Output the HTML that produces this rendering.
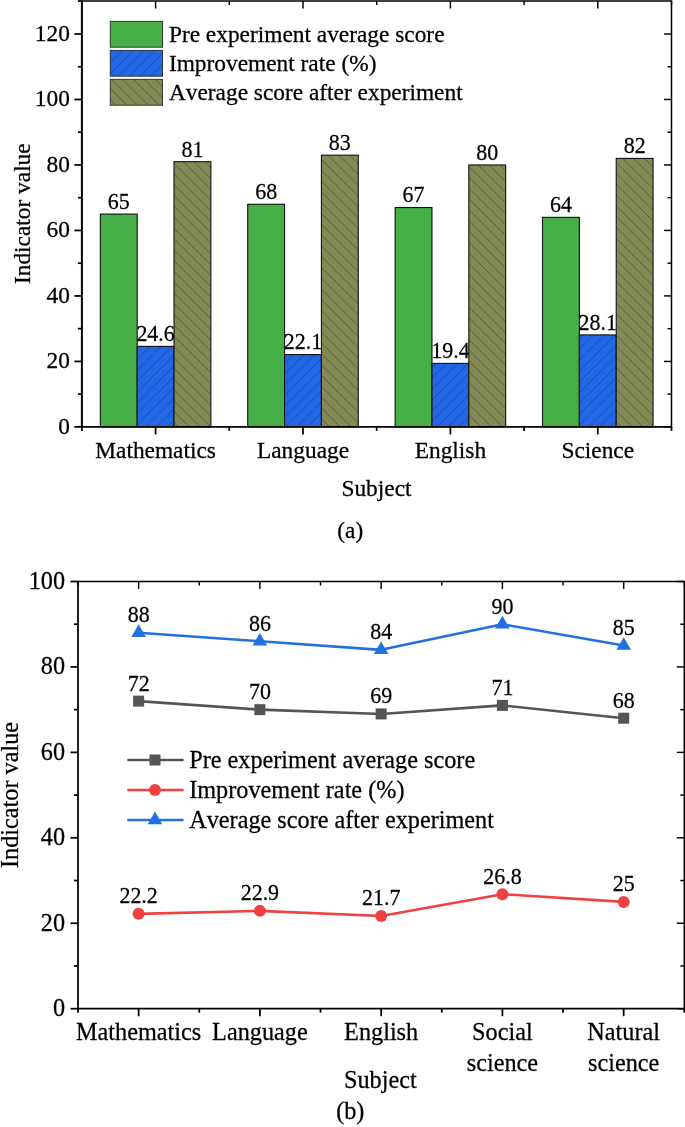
<!DOCTYPE html>
<html><head><meta charset="utf-8"><title>Chart</title>
<style>
html,body{margin:0;padding:0;background:#fff;}
body{width:685px;height:1127px;overflow:hidden;}
svg{display:block;}
text{font-family:"Liberation Serif", serif;font-size:23.37px;fill:#000;stroke:#000;stroke-width:0.26px;font-kerning:none;}
text.dl,.cb text.dl{font-size:24px;}
.cb text{font-size:24.24px;}
.ax{stroke:#000;stroke-width:1.8;fill:none;}
.tk{stroke:#000;stroke-width:1.75;}
.tr{stroke-width:1.45;}
</style></head><body>
<svg width="685" height="1127" viewBox="0 0 685 1127">
<defs>
<pattern id="pg" width="4" height="4" patternUnits="userSpaceOnUse"><rect width="4" height="4" fill="#46b147"/><rect x="0" y="0" width="1" height="1" fill="#3ca43d"/><rect x="2" y="2" width="1" height="1" fill="#3ca43d"/></pattern>
<pattern id="pb" width="10.8" height="10.8" patternUnits="userSpaceOnUse"><rect width="10.8" height="10.8" fill="#2268e6"/><path d="M-1,11.8 L11.8,-1 M-1,1 L1,-1 M9.8,11.8 L11.8,9.8" stroke="#123c8c" stroke-width="0.65"/></pattern>
<pattern id="po" width="10.8" height="10.8" patternUnits="userSpaceOnUse"><rect width="10.8" height="10.8" fill="#838a55"/><path d="M-1,-1 L11.8,11.8 M-1,9.8 L1,11.8 M9.8,-1 L11.8,1" stroke="#43472a" stroke-width="0.65"/></pattern>
</defs>
<rect width="685" height="1127" fill="#fff"/>

<rect x="100.33" y="214.08" width="36.85" height="212.82" fill="url(#pg)" stroke="#111" stroke-width="1.1"/>
<text transform="translate(118.75,208.98) scale(0.915,1)" text-anchor="middle" class="dl">65</text>
<rect x="137.18" y="346.36" width="36.85" height="80.54" fill="url(#pb)" stroke="#111" stroke-width="1.1"/>
<text transform="translate(155.60,341.26) scale(0.915,1)" text-anchor="middle" class="dl">24.6</text>
<rect x="174.03" y="161.69" width="36.85" height="265.21" fill="url(#po)" stroke="#111" stroke-width="1.1"/>
<text transform="translate(192.45,156.59) scale(0.915,1)" text-anchor="middle" class="dl">81</text>
<rect x="247.72" y="204.26" width="36.85" height="222.64" fill="url(#pg)" stroke="#111" stroke-width="1.1"/>
<text transform="translate(266.15,199.16) scale(0.915,1)" text-anchor="middle" class="dl">68</text>
<rect x="284.57" y="354.54" width="36.85" height="72.36" fill="url(#pb)" stroke="#111" stroke-width="1.1"/>
<text transform="translate(303.00,349.44) scale(0.915,1)" text-anchor="middle" class="dl">22.1</text>
<rect x="321.43" y="155.14" width="36.85" height="271.76" fill="url(#po)" stroke="#111" stroke-width="1.1"/>
<text transform="translate(339.85,150.04) scale(0.915,1)" text-anchor="middle" class="dl">83</text>
<rect x="395.12" y="207.53" width="36.85" height="219.37" fill="url(#pg)" stroke="#111" stroke-width="1.1"/>
<text transform="translate(413.55,202.43) scale(0.915,1)" text-anchor="middle" class="dl">67</text>
<rect x="431.98" y="363.38" width="36.85" height="63.52" fill="url(#pb)" stroke="#111" stroke-width="1.1"/>
<text transform="translate(450.40,358.28) scale(0.915,1)" text-anchor="middle" class="dl">19.4</text>
<rect x="468.82" y="164.97" width="36.85" height="261.93" fill="url(#po)" stroke="#111" stroke-width="1.1"/>
<text transform="translate(487.25,159.87) scale(0.915,1)" text-anchor="middle" class="dl">80</text>
<rect x="542.52" y="217.35" width="36.85" height="209.55" fill="url(#pg)" stroke="#111" stroke-width="1.1"/>
<text transform="translate(560.95,212.25) scale(0.915,1)" text-anchor="middle" class="dl">64</text>
<rect x="579.38" y="334.90" width="36.85" height="92.00" fill="url(#pb)" stroke="#111" stroke-width="1.1"/>
<text transform="translate(597.80,329.80) scale(0.915,1)" text-anchor="middle" class="dl">28.1</text>
<rect x="616.23" y="158.42" width="36.85" height="268.48" fill="url(#po)" stroke="#111" stroke-width="1.1"/>
<text transform="translate(634.65,153.32) scale(0.915,1)" text-anchor="middle" class="dl">82</text>
<line x1="81.9" y1="0.25" x2="81.9" y2="427.79999999999995" stroke="#000" stroke-width="2.0"/>
<line x1="671.5" y1="0.25" x2="671.5" y2="427.79999999999995" stroke="#000" stroke-width="1.5"/>
<line x1="81.9" y1="1.05" x2="671.5" y2="1.05" stroke="#000" stroke-width="1.6"/>
<line x1="81.9" y1="426.9" x2="671.5" y2="426.9" stroke="#000" stroke-width="1.8"/>
<line class="tk" x1="77.9" y1="1.05" x2="81.9" y2="1.05"/>
<line class="tk" x1="74.4" y1="426.90" x2="81.9" y2="426.90"/>
<line class="tk tr" x1="664.0" y1="426.90" x2="671.5" y2="426.90"/>
<text x="69.9" y="433.70" text-anchor="end">0</text>
<line class="tk" x1="77.9" y1="394.16" x2="81.9" y2="394.16"/>
<line class="tk tr" x1="667.5" y1="394.16" x2="671.5" y2="394.16"/>
<line class="tk" x1="74.4" y1="361.42" x2="81.9" y2="361.42"/>
<line class="tk tr" x1="664.0" y1="361.42" x2="671.5" y2="361.42"/>
<text x="69.9" y="368.22" text-anchor="end">20</text>
<line class="tk" x1="77.9" y1="328.67" x2="81.9" y2="328.67"/>
<line class="tk tr" x1="667.5" y1="328.67" x2="671.5" y2="328.67"/>
<line class="tk" x1="74.4" y1="295.93" x2="81.9" y2="295.93"/>
<line class="tk tr" x1="664.0" y1="295.93" x2="671.5" y2="295.93"/>
<text x="69.9" y="302.73" text-anchor="end">40</text>
<line class="tk" x1="77.9" y1="263.19" x2="81.9" y2="263.19"/>
<line class="tk tr" x1="667.5" y1="263.19" x2="671.5" y2="263.19"/>
<line class="tk" x1="74.4" y1="230.45" x2="81.9" y2="230.45"/>
<line class="tk tr" x1="664.0" y1="230.45" x2="671.5" y2="230.45"/>
<text x="69.9" y="237.25" text-anchor="end">60</text>
<line class="tk" x1="77.9" y1="197.71" x2="81.9" y2="197.71"/>
<line class="tk tr" x1="667.5" y1="197.71" x2="671.5" y2="197.71"/>
<line class="tk" x1="74.4" y1="164.97" x2="81.9" y2="164.97"/>
<line class="tk tr" x1="664.0" y1="164.97" x2="671.5" y2="164.97"/>
<text x="69.9" y="171.77" text-anchor="end">80</text>
<line class="tk" x1="77.9" y1="132.23" x2="81.9" y2="132.23"/>
<line class="tk tr" x1="667.5" y1="132.23" x2="671.5" y2="132.23"/>
<line class="tk" x1="74.4" y1="99.48" x2="81.9" y2="99.48"/>
<line class="tk tr" x1="664.0" y1="99.48" x2="671.5" y2="99.48"/>
<text x="69.9" y="106.28" text-anchor="end">100</text>
<line class="tk" x1="77.9" y1="66.74" x2="81.9" y2="66.74"/>
<line class="tk tr" x1="667.5" y1="66.74" x2="671.5" y2="66.74"/>
<line class="tk" x1="74.4" y1="34.00" x2="81.9" y2="34.00"/>
<line class="tk tr" x1="664.0" y1="34.00" x2="671.5" y2="34.00"/>
<text x="69.9" y="40.80" text-anchor="end">120</text>
<line class="tk" x1="81.90" y1="426.9" x2="81.90" y2="430.9"/>
<line class="tk tr" x1="81.90" y1="1.05" x2="81.90" y2="5.05"/>
<line class="tk" x1="155.60" y1="426.9" x2="155.60" y2="434.4"/>
<line class="tk tr" x1="155.60" y1="1.05" x2="155.60" y2="8.55"/>
<text x="155.60" y="457.7" text-anchor="middle">Mathematics</text>
<line class="tk" x1="229.30" y1="426.9" x2="229.30" y2="430.9"/>
<line class="tk tr" x1="229.30" y1="1.05" x2="229.30" y2="5.05"/>
<line class="tk" x1="303.00" y1="426.9" x2="303.00" y2="434.4"/>
<line class="tk tr" x1="303.00" y1="1.05" x2="303.00" y2="8.55"/>
<text x="303.00" y="457.7" text-anchor="middle">Language</text>
<line class="tk" x1="376.70" y1="426.9" x2="376.70" y2="430.9"/>
<line class="tk tr" x1="376.70" y1="1.05" x2="376.70" y2="5.05"/>
<line class="tk" x1="450.40" y1="426.9" x2="450.40" y2="434.4"/>
<line class="tk tr" x1="450.40" y1="1.05" x2="450.40" y2="8.55"/>
<text x="450.40" y="457.7" text-anchor="middle">English</text>
<line class="tk" x1="524.10" y1="426.9" x2="524.10" y2="430.9"/>
<line class="tk tr" x1="524.10" y1="1.05" x2="524.10" y2="5.05"/>
<line class="tk" x1="597.80" y1="426.9" x2="597.80" y2="434.4"/>
<line class="tk tr" x1="597.80" y1="1.05" x2="597.80" y2="8.55"/>
<text x="597.80" y="457.7" text-anchor="middle">Science</text>
<line class="tk" x1="671.50" y1="426.9" x2="671.50" y2="430.9"/>
<line class="tk tr" x1="671.50" y1="1.05" x2="671.50" y2="5.05"/>
<text x="376.5" y="496" text-anchor="middle">Subject</text>
<text x="350.3" y="537.8" text-anchor="middle">(a)</text>
<text transform="translate(30.3,213.7) rotate(-90)" text-anchor="middle">Indicator value</text>
<rect x="110.2" y="21.3" width="52.4" height="25.9" fill="url(#pg)" stroke="#1a1a1a" stroke-width="0.8"/>
<text x="168.9" y="42.1">Pre experiment average score</text>
<rect x="110.2" y="50.3" width="52.4" height="25.9" fill="url(#pb)" stroke="#1a1a1a" stroke-width="0.8"/>
<text x="168.9" y="71.1">Improvement rate (%)</text>
<rect x="110.2" y="79.3" width="52.4" height="25.9" fill="url(#po)" stroke="#1a1a1a" stroke-width="0.8"/>
<text x="168.9" y="100.1">Average score after experiment</text>
<g class="cb">
<line x1="78.0" y1="580.8" x2="78.0" y2="1009.5500000000001" stroke="#000" stroke-width="1.75"/>
<line x1="684.3" y1="580.8" x2="684.3" y2="1009.5500000000001" stroke="#000" stroke-width="1.5"/>
<line x1="78.0" y1="581.5" x2="684.3" y2="581.5" stroke="#000" stroke-width="1.4"/>
<line x1="78.0" y1="1008.7" x2="684.3" y2="1008.7" stroke="#000" stroke-width="1.7"/>
<line class="tk" x1="70.5" y1="1008.70" x2="78.0" y2="1008.70"/>
<line class="tk tr" x1="676.8" y1="1008.70" x2="684.3" y2="1008.70"/>
<text x="65.0" y="1016.10" text-anchor="end">0</text>
<line class="tk" x1="74.0" y1="965.98" x2="78.0" y2="965.98"/>
<line class="tk tr" x1="680.3" y1="965.98" x2="684.3" y2="965.98"/>
<line class="tk" x1="70.5" y1="923.26" x2="78.0" y2="923.26"/>
<line class="tk tr" x1="676.8" y1="923.26" x2="684.3" y2="923.26"/>
<text x="65.0" y="930.66" text-anchor="end">20</text>
<line class="tk" x1="74.0" y1="880.54" x2="78.0" y2="880.54"/>
<line class="tk tr" x1="680.3" y1="880.54" x2="684.3" y2="880.54"/>
<line class="tk" x1="70.5" y1="837.82" x2="78.0" y2="837.82"/>
<line class="tk tr" x1="676.8" y1="837.82" x2="684.3" y2="837.82"/>
<text x="65.0" y="845.22" text-anchor="end">40</text>
<line class="tk" x1="74.0" y1="795.10" x2="78.0" y2="795.10"/>
<line class="tk tr" x1="680.3" y1="795.10" x2="684.3" y2="795.10"/>
<line class="tk" x1="70.5" y1="752.38" x2="78.0" y2="752.38"/>
<line class="tk tr" x1="676.8" y1="752.38" x2="684.3" y2="752.38"/>
<text x="65.0" y="759.78" text-anchor="end">60</text>
<line class="tk" x1="74.0" y1="709.66" x2="78.0" y2="709.66"/>
<line class="tk tr" x1="680.3" y1="709.66" x2="684.3" y2="709.66"/>
<line class="tk" x1="70.5" y1="666.94" x2="78.0" y2="666.94"/>
<line class="tk tr" x1="676.8" y1="666.94" x2="684.3" y2="666.94"/>
<text x="65.0" y="674.34" text-anchor="end">80</text>
<line class="tk" x1="74.0" y1="624.22" x2="78.0" y2="624.22"/>
<line class="tk tr" x1="680.3" y1="624.22" x2="684.3" y2="624.22"/>
<line class="tk" x1="70.5" y1="581.50" x2="78.0" y2="581.50"/>
<line class="tk tr" x1="676.8" y1="581.50" x2="684.3" y2="581.50"/>
<text x="65.0" y="588.90" text-anchor="end">100</text>
<line class="tk" x1="78.00" y1="1008.7" x2="78.00" y2="1012.7"/>
<line class="tk tr" x1="78.00" y1="581.5" x2="78.00" y2="585.5"/>
<line class="tk" x1="138.63" y1="1008.7" x2="138.63" y2="1016.2"/>
<line class="tk tr" x1="138.63" y1="581.5" x2="138.63" y2="589.0"/>
<text x="138.63" y="1040.3" text-anchor="middle">Mathematics</text>
<line class="tk" x1="199.26" y1="1008.7" x2="199.26" y2="1012.7"/>
<line class="tk tr" x1="199.26" y1="581.5" x2="199.26" y2="585.5"/>
<line class="tk" x1="259.89" y1="1008.7" x2="259.89" y2="1016.2"/>
<line class="tk tr" x1="259.89" y1="581.5" x2="259.89" y2="589.0"/>
<text x="259.89" y="1040.3" text-anchor="middle">Language</text>
<line class="tk" x1="320.52" y1="1008.7" x2="320.52" y2="1012.7"/>
<line class="tk tr" x1="320.52" y1="581.5" x2="320.52" y2="585.5"/>
<line class="tk" x1="381.15" y1="1008.7" x2="381.15" y2="1016.2"/>
<line class="tk tr" x1="381.15" y1="581.5" x2="381.15" y2="589.0"/>
<text x="381.15" y="1040.3" text-anchor="middle">English</text>
<line class="tk" x1="441.78" y1="1008.7" x2="441.78" y2="1012.7"/>
<line class="tk tr" x1="441.78" y1="581.5" x2="441.78" y2="585.5"/>
<line class="tk" x1="502.41" y1="1008.7" x2="502.41" y2="1016.2"/>
<line class="tk tr" x1="502.41" y1="581.5" x2="502.41" y2="589.0"/>
<text x="502.41" y="1040.3" text-anchor="middle">Social</text>
<text x="502.41" y="1070.6" text-anchor="middle">science</text>
<line class="tk" x1="563.04" y1="1008.7" x2="563.04" y2="1012.7"/>
<line class="tk tr" x1="563.04" y1="581.5" x2="563.04" y2="585.5"/>
<line class="tk" x1="623.67" y1="1008.7" x2="623.67" y2="1016.2"/>
<line class="tk tr" x1="623.67" y1="581.5" x2="623.67" y2="589.0"/>
<text x="623.67" y="1040.3" text-anchor="middle">Natural</text>
<text x="623.67" y="1070.6" text-anchor="middle">science</text>
<line class="tk" x1="684.30" y1="1008.7" x2="684.30" y2="1012.7"/>
<line class="tk tr" x1="684.30" y1="581.5" x2="684.30" y2="585.5"/>
<polyline points="138.63,701.12 259.89,709.66 381.15,713.93 502.41,705.39 623.67,718.20" fill="none" stroke="#555555" stroke-width="2.6" stroke-linejoin="round"/>
<rect x="133.13" y="695.62" width="11" height="11" fill="#555555"/>
<text transform="translate(138.63,690.52) scale(0.915,1)" text-anchor="middle" class="dl">72</text>
<rect x="254.39" y="704.16" width="11" height="11" fill="#555555"/>
<text transform="translate(259.89,699.06) scale(0.915,1)" text-anchor="middle" class="dl">70</text>
<rect x="375.65" y="708.43" width="11" height="11" fill="#555555"/>
<text transform="translate(381.15,703.33) scale(0.915,1)" text-anchor="middle" class="dl">69</text>
<rect x="496.91" y="699.89" width="11" height="11" fill="#555555"/>
<text transform="translate(502.41,694.79) scale(0.915,1)" text-anchor="middle" class="dl">71</text>
<rect x="618.17" y="712.70" width="11" height="11" fill="#555555"/>
<text transform="translate(623.67,707.60) scale(0.915,1)" text-anchor="middle" class="dl">68</text>
<polyline points="138.63,913.86 259.89,910.87 381.15,916.00 502.41,894.21 623.67,901.90" fill="none" stroke="#f04040" stroke-width="2.6" stroke-linejoin="round"/>
<circle cx="138.63" cy="913.86" r="6" fill="#f04040"/>
<text transform="translate(138.63,903.26) scale(0.915,1)" text-anchor="middle" class="dl">22.2</text>
<circle cx="259.89" cy="910.87" r="6" fill="#f04040"/>
<text transform="translate(259.89,900.27) scale(0.915,1)" text-anchor="middle" class="dl">22.9</text>
<circle cx="381.15" cy="916.00" r="6" fill="#f04040"/>
<text transform="translate(381.15,905.40) scale(0.915,1)" text-anchor="middle" class="dl">21.7</text>
<circle cx="502.41" cy="894.21" r="6" fill="#f04040"/>
<text transform="translate(502.41,883.61) scale(0.915,1)" text-anchor="middle" class="dl">26.8</text>
<circle cx="623.67" cy="901.90" r="6" fill="#f04040"/>
<text transform="translate(623.67,891.30) scale(0.915,1)" text-anchor="middle" class="dl">25</text>
<polyline points="138.63,632.76 259.89,641.31 381.15,649.85 502.41,624.22 623.67,645.58" fill="none" stroke="#2370e0" stroke-width="2.6" stroke-linejoin="round"/>
<polygon points="138.63,624.36 131.33,636.96 145.93,636.96" fill="#2370e0"/>
<text transform="translate(138.63,622.16) scale(0.915,1)" text-anchor="middle" class="dl">88</text>
<polygon points="259.89,632.91 252.59,645.51 267.19,645.51" fill="#2370e0"/>
<text transform="translate(259.89,630.71) scale(0.915,1)" text-anchor="middle" class="dl">86</text>
<polygon points="381.15,641.45 373.85,654.05 388.45,654.05" fill="#2370e0"/>
<text transform="translate(381.15,639.25) scale(0.915,1)" text-anchor="middle" class="dl">84</text>
<polygon points="502.41,615.82 495.11,628.42 509.71,628.42" fill="#2370e0"/>
<text transform="translate(502.41,613.62) scale(0.915,1)" text-anchor="middle" class="dl">90</text>
<polygon points="623.67,637.18 616.37,649.78 630.97,649.78" fill="#2370e0"/>
<text transform="translate(623.67,634.98) scale(0.915,1)" text-anchor="middle" class="dl">85</text>
<line x1="127.3" y1="760.0" x2="183.6" y2="760.0" stroke="#555555" stroke-width="2.6"/>
<rect x="149.50" y="754.50" width="11" height="11" fill="#555555"/>
<text x="189.2" y="768.0">Pre experiment average score</text>
<line x1="127.3" y1="790.0" x2="183.6" y2="790.0" stroke="#f04040" stroke-width="2.6"/>
<circle cx="155.00" cy="790.00" r="6" fill="#f04040"/>
<text x="189.2" y="798.0">Improvement rate (%)</text>
<line x1="127.3" y1="820.0" x2="183.6" y2="820.0" stroke="#2370e0" stroke-width="2.6"/>
<polygon points="155.00,811.60 147.70,824.20 162.30,824.20" fill="#2370e0"/>
<text x="189.2" y="828.0">Average score after experiment</text>
<text x="380.3" y="1088.3" text-anchor="middle">Subject</text>
<text x="350.3" y="1119.2" text-anchor="middle">(b)</text>
<text transform="translate(18.2,795) rotate(-90)" text-anchor="middle">Indicator value</text>
</g>
</svg></body></html>
